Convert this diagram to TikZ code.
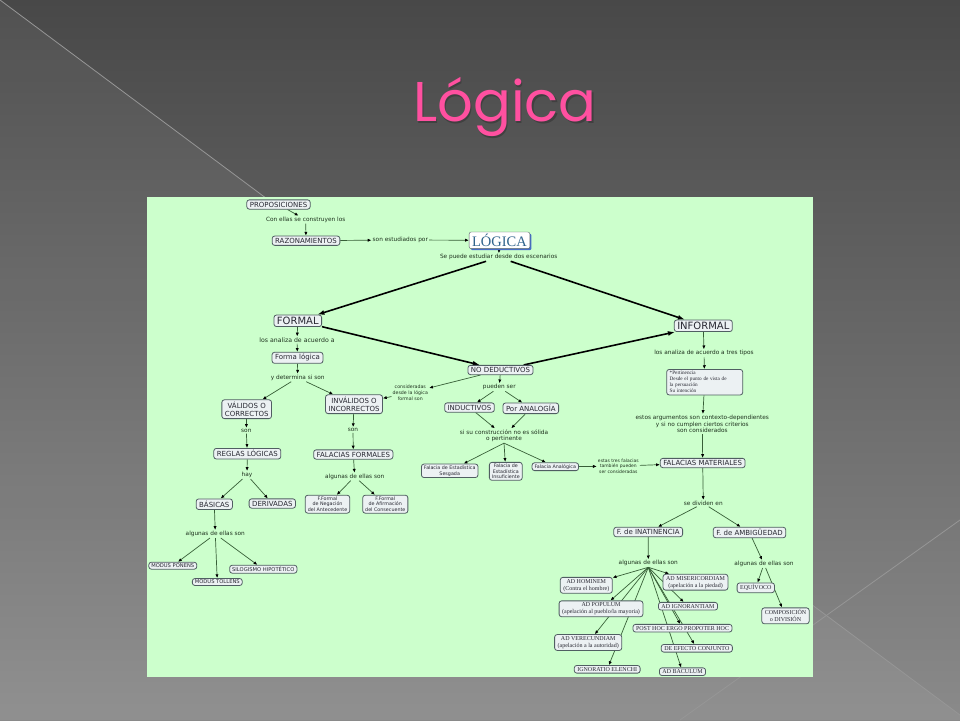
\documentclass[tikz,border=0pt]{standalone}
\usepackage{fontspec}
\setmainfont{DejaVu Sans}
\newfontfamily\serf{Liberation Serif}
\newfontfamily\titf{Poppins}
\usetikzlibrary{arrows.meta,shadows}
\pgfdeclarelayer{back}
\pgfdeclarelayer{lines}
\pgfsetlayers{back,lines,main}
\definecolor{bgtop}{RGB}{72,72,72}
\definecolor{bgmid}{RGB}{90,90,90}
\definecolor{bgbot}{RGB}{138,138,138}
\definecolor{mapgreen}{RGB}{204,255,204}
\definecolor{boxfill}{RGB}{236,241,243}
\definecolor{boxdraw}{RGB}{80,94,98}
\definecolor{boxtext}{RGB}{40,40,50}
\definecolor{linktext}{RGB}{30,50,30}
\definecolor{linkline}{RGB}{55,95,55}
\definecolor{logblue}{RGB}{47,100,140}
\definecolor{shadowblue}{RGB}{70,110,200}
\definecolor{titlepink}{RGB}{255,80,160}
\definecolor{diagline}{RGB}{150,150,150}
\begin{document}
\begin{tikzpicture}[x=1pt,y=-1pt,
 cbox/.style={draw=boxdraw, fill=boxfill, rounded corners=2.5pt, line width=0.8pt, text=boxtext, align=center, inner xsep=3pt, inner ysep=2pt, font=\fontsize{7}{8.2}\selectfont},
 tbox/.style={cbox, inner xsep=2.5pt, inner ysep=1.5pt, font=\fontsize{4.8}{5.6}\selectfont},
 sbox/.style={cbox, inner xsep=2.5pt, inner ysep=1.5pt, font=\fontsize{5.2}{6}\selectfont},
 rbox/.style={cbox, inner xsep=3pt, inner ysep=1.8pt, font=\serf\fontsize{6}{7}\selectfont},
 bigbox/.style={cbox, inner xsep=3pt, inner ysep=2pt, font=\fontsize{10}{11}\selectfont},
 lk/.style={text=linktext, align=center, inner sep=1pt, font=\fontsize{5.8}{6.6}\selectfont},
 lkt/.style={lk, font=\fontsize{4.7}{6.2}\selectfont},
 ar/.style={draw=linkline, line width=0.7pt, -{Latex[length=3.8pt,width=3.2pt,color=black]}},
 thk/.style={draw=black, line width=1.6pt, -{Latex[length=7pt,width=5pt]}},
 titlestyle/.style={font=\titf\fontsize{56}{60}\selectfont, anchor=base, inner sep=0pt}
]
\useasboundingbox (0,0) rectangle (960,720);
\begin{pgfonlayer}{back}
\shade[top color=bgtop, middle color=bgmid, bottom color=bgbot] (0,0) rectangle (960,720);
\fill[white, opacity=0.05] (0,0) -- (960,715) -- (960,720) -- (0,720) -- cycle;
\draw[diagline, line width=0.8pt] (0,0) -- (960,715);
\draw[diagline, line width=0.8pt] (680,720) -- (960,520);
\fill[mapgreen] (147,197) rectangle (813,677);
\end{pgfonlayer}

% title
\node[titlestyle, text=black!75] (titleshadow) at (506.5,123.2) {Lógica};
\node[titlestyle, text=titlepink] (title) at (505,121.7) {Lógica};

% top
\node[cbox] (prop) at (278.5,204.5) {PROPOSICIONES};
\node[lk] (l1) at (305.7,219.7) {Con ellas se construyen los};
\node[cbox] (raz) at (306,240.7) {RAZONAMIENTOS};
\node[lk] (l2) at (400.3,240) {son estudiados por};
\node[draw=boxdraw, fill=white, rounded corners=2pt, font=\serf\fontsize{14.5}{15}\selectfont, text=logblue, inner xsep=3pt, inner ysep=2pt, drop shadow={fill=shadowblue, shadow xshift=1.6pt, shadow yshift=-1.6pt, opacity=1}] (log) at (499.5,240.3) {LÓGICA};
\node[lk] (l3) at (498.7,257.3) {Se puede estudiar desde dos escenarios};
\node[bigbox] (formal) at (297.8,320.8) {FORMAL};
\node[bigbox] (informal) at (703.3,325.8) {INFORMAL};

% formal branch
\node[lk, font=\fontsize{6.2}{7}\selectfont] (l4) at (297,340) {los analiza de acuerdo a};
\node[cbox] (forma) at (297.5,357.8) {Forma lógica};
\node[lk] (l5) at (297.7,377.7) {y determina si son};
\node[cbox] (val) at (246.7,409.2) {VÁLIDOS O\\CORRECTOS};
\node[cbox] (inval) at (354,404.2) {INVÁLIDOS O\\INCORRECTOS};
\node[cbox] (nod) at (500.5,370) {NO DEDUCTIVOS};
\node[lkt] (l6) at (410.3,392.7) {consideradas\\desde la lógica\\formal son};
\node[lk] (l7) at (246.3,430.7) {son};
\node[cbox] (reglas) at (247.3,453.7) {REGLAS LÓGICAS};
\node[lk] (l8) at (353,430) {son};
\node[cbox] (falf) at (353.3,454.5) {FALACIAS FORMALES};
\node[lk] (l9) at (247,475) {hay};
\node[lk] (l10) at (354.7,476.7) {algunas de ellas son};
\node[cbox] (bas) at (214.3,504.2) {BÁSICAS};
\node[cbox] (der) at (272.3,503.5) {DERIVADAS};
\node[tbox] (ffn) at (327.5,504.2) {F.Formal\\de Negación\\del Antecedente};
\node[tbox] (ffa) at (385.3,504.2) {F.Formal\\de Afirmación\\del Consecuente};
\node[lk] (l11) at (215.3,534) {algunas de ellas son};
\node[sbox] (mp) at (172.8,565.7) {MODUS PONENS};
\node[sbox] (mt) at (217.3,582) {MODUS TOLLENS};
\node[sbox] (sh) at (263.3,569.2) {SILOGISMO HIPOTÉTICO};

% no deductivos
\node[lk] (l12) at (499.3,387.3) {pueden ser};
\node[cbox] (ind) at (469.5,407.5) {INDUCTIVOS};
\node[cbox] (ana) at (530.8,408.3) {Por ANALOGÍA};
\node[lk] (l13) at (504,435.7) {si su construcción no es sólida\\o pertinente};
\node[tbox] (fes) at (449.7,470.8) {Falacia de Estadística\\Sesgada};
\node[tbox] (fei) at (505.8,471.3) {Falacia de\\Estadística\\Insuficiente};
\node[tbox] (fan) at (555.3,466.7) {Falacia Analógica};
\node[lkt, font=\fontsize{4.5}{5.6}\selectfont] (l14) at (618.3,466.2) {estas tres falacias\\también pueden\\ser consideradas};

% informal
\node[lk] (l15) at (704,353.3) {los analiza de acuerdo a tres tipos};
\node[cbox, align=left, text width=70pt, inner xsep=3pt, inner ysep=2pt, font=\serf\fontsize{5.2}{6}\selectfont] (tip) at (704.7,382.2) {*Pertinencia\\*Desde el punto de vista de\\la persuación\\* Su intención};
\node[lk] (l16) at (702.3,424) {estos argumentos son contexto-dependientes\\y si no cumplen ciertos criterios\\son considerados};
\node[cbox] (falm) at (702.7,463) {FALACIAS MATERIALES};
\node[lk] (l17) at (703.3,503.3) {se dividen en};
\node[cbox] (fin) at (648.2,532) {F. de INATINENCIA};
\node[cbox] (fam) at (749.5,532.5) {F. de AMBIGÜEDAD};
\node[lk] (l18) at (648.3,563.3) {algunas de ellas son};
\node[lk] (l19) at (764,564) {algunas de ellas son};
\node[rbox] (adh) at (586.3,585.3) {AD HOMINEM\\(Contra el hombre)};
\node[rbox] (adm) at (695.5,582.2) {AD MISERICORDIAM\\(apelación a la piedad)};
\node[rbox] (adp) at (601,608.8) {AD POPULUM\\(apelación al pueblo/la mayoria)};
\node[rbox] (adi) at (688,606.2) {AD IGNORANTIAM};
\node[rbox] (post) at (682.5,628.2) {POST HOC ERGO PROPOTER HOC};
\node[rbox] (adv) at (588.2,642.5) {AD VERECUNDIAM\\(apelación a la autoridad)};
\node[rbox] (dec) at (696.8,648.3) {DE EFECTO CONJUNTO};
\node[rbox] (ign) at (607.2,669.3) {IGNORATIO ELENCHI};
\node[rbox] (adb) at (682.5,671.7) {AD BACULUM};
\node[rbox] (equ) at (755.8,587.8) {EQUÍVOCO};
\node[rbox] (comp) at (785.5,615.8) {COMPOSICIÓN\\o DIVISIÓN};

\begin{pgfonlayer}{lines}
\draw[ar] (prop) -- (l1);
\draw[ar] (l1) -- (raz);
\draw[ar] (raz) -- (l2);
\draw[ar] (l2) -- (log);
\draw[ar] (log) -- (l3);
\draw[thk] (l3) -- (formal);
\draw[thk] (l3) -- (informal);
\draw[thk] (formal) -- (nod);
\draw[thk] (nod) -- (informal);
\draw[ar] (formal) -- (l4);
\draw[ar] (l4) -- (forma);
\draw[ar] (forma) -- (l5);
\draw[ar] (l5) -- (val);
\draw[ar] (l5) -- (inval);
\draw[ar] (nod) -- (l6);
\draw[ar] (l6) -- (inval);
\draw[ar] (val) -- (l7);
\draw[ar] (l7) -- (reglas);
\draw[ar] (inval) -- (l8);
\draw[ar] (l8) -- (falf);
\draw[ar] (reglas) -- (l9);
\draw[ar] (l9) -- (bas);
\draw[ar] (l9) -- (der);
\draw[ar] (falf) -- (l10);
\draw[ar] (l10) -- (ffn);
\draw[ar] (l10) -- (ffa);
\draw[ar] (bas) -- (l11);
\draw[ar] (l11) -- (mp);
\draw[ar] (l11) -- (mt);
\draw[ar] (l11) -- (sh);
\draw[ar] (nod) -- (l12);
\draw[ar] (l12) -- (ind);
\draw[ar] (l12) -- (ana);
\draw[ar] (ind) -- (l13);
\draw[ar] (ana) -- (l13);
\draw[ar] (l13.south) -- (fes);
\draw[ar] (l13.south) -- (fei);
\draw[ar] (l13.south) -- (fan);
\draw[ar] (fan) -- (l14);
\draw[ar] (l14) -- (falm);
\draw[ar] (informal) -- (l15);
\draw[ar] (l15) -- (tip);
\draw[ar] (tip) -- (l16);
\draw[ar] (l16) -- (falm);
\draw[ar] (falm) -- (l17);
\draw[ar] (l17) -- (fin);
\draw[ar] (l17) -- (fam);
\draw[ar] (fin) -- (l18);
\draw[ar] (fam) -- (l19);
\foreach \t in {adh,adm,adp,adi,post,adv,dec,ign,adb}{\draw[ar] (l18.south) -- (\t);}
\draw[ar] (l19) -- (equ);
\draw[ar] (l19) -- (comp);
\end{pgfonlayer}
\end{tikzpicture}
\end{document}
